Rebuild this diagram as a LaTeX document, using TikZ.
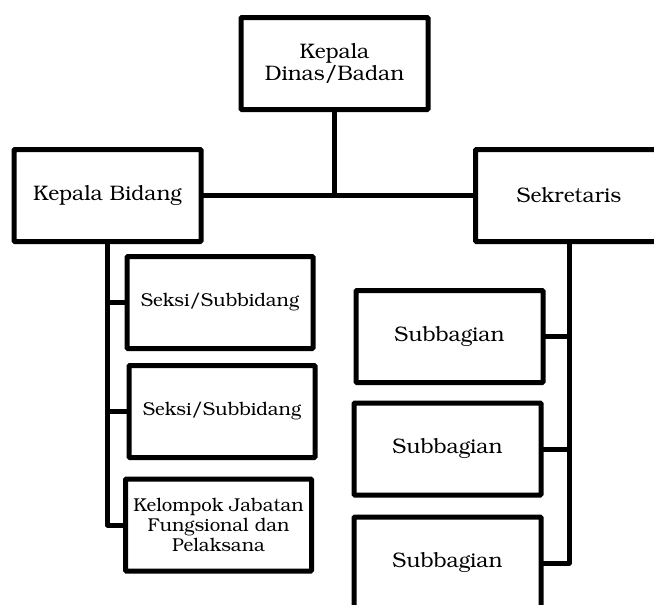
\documentclass[tikz,border=0pt]{standalone}
\usepackage[T1]{fontenc}
\usepackage{bookman}
\begin{document}
\begin{tikzpicture}[x=1pt,y=-1pt,
  unit/.style={draw=black,line width=5pt,fill=white,rectangle,align=center,
    inner sep=0pt,rounded corners=1pt},
  big/.style={unit,minimum width=187pt,minimum height=92pt,font=\fontsize{21}{22}\selectfont},
  sub/.style={unit,minimum width=186pt,minimum height=92pt,font=\fontsize{18.6}{20}\selectfont},
  link/.style={line width=5pt,line join=round,line cap=round}]
\useasboundingbox (0,0) rectangle (654,605);
\clip (0,0) rectangle (654,605);

% top-level office
\node[big] (kd) at (334.5,63.5) {Kepala\\Dinas/Badan};

% second level
\node[big] (kb) at (107.5,195.5) {Kepala Bidang};
\node[big] (sek) at (569,195.5) {Sekretaris};

% units under Kepala Bidang
\node[sub] (s1) at (220,302.5) {Seksi/Subbidang};
\node[sub] (s2) at (222,411.5) {Seksi/Subbidang};
\node[sub] (kel) at (218.5,525) {Kelompok Jabatan\\Fungsional dan\\Pelaksana};

% units under Sekretaris
\node[big] (sb1) at (449.5,336.5) {Subbagian};
\node[big] (sb2) at (447.5,449) {Subbagian};
\node[big] (sb3) at (447.5,563) {Subbagian};

% connectors
\coordinate (jn) at (kd.south |- kb.east);
\draw[link] (kb.east) -- (sek.west);
\draw[link] (kd.south) -- (jn);
\draw[link] (kb.south) |- (kel.west);
\draw[link] (kb.south |- s1.west) -- (s1.west);
\draw[link] (kb.south |- s2.west) -- (s2.west);
\draw[link] (sek.south) |- (sb3.east);
\draw[link] (sek.south |- sb1.east) -- (sb1.east);
\draw[link] (sek.south |- sb2.east) -- (sb2.east);
\end{tikzpicture}
\end{document}
